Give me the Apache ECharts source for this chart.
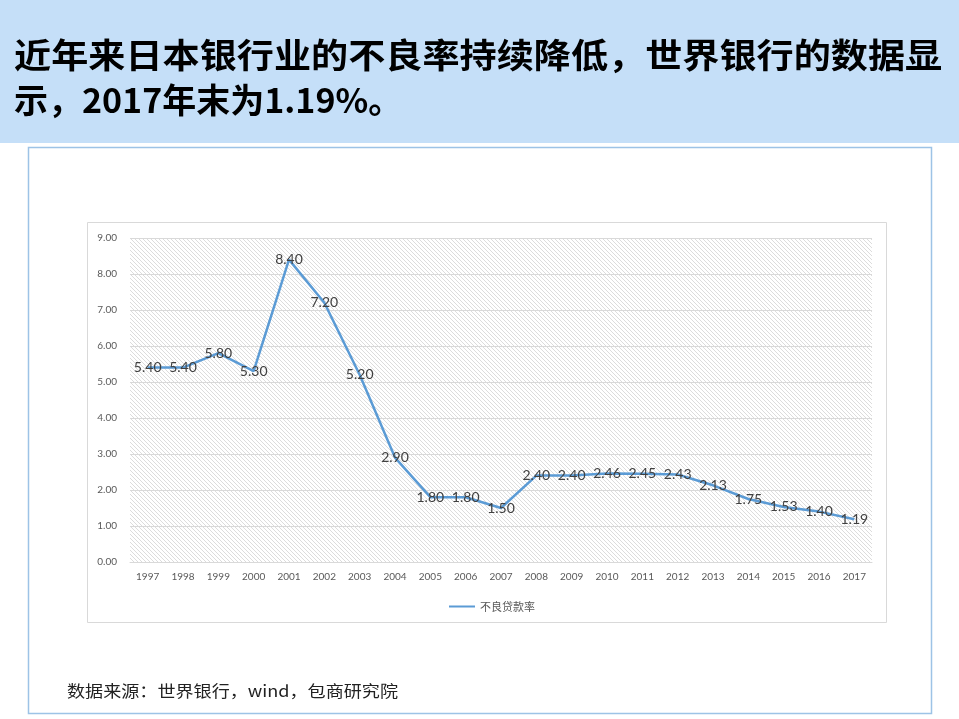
<!DOCTYPE html>
<html>
<head>
<meta charset="utf-8">
<script src="https://cdn.jsdelivr.net/npm/echarts@6/dist/echarts.min.js"></script>
<style>
html,body{margin:0;padding:0;background:#fff;}
#c{width:959px;height:719px;}
</style>
</head>
<body>
<div id="c"></div>
<script>
const years = ['1997','1998','1999','2000','2001','2002','2003','2004','2005','2006','2007','2008','2009','2010','2011','2012','2013','2014','2015','2016','2017'];
const nplRatio = [5.40,5.40,5.80,5.30,8.40,7.20,5.20,2.90,1.80,1.80,1.50,2.40,2.40,2.46,2.45,2.43,2.13,1.75,1.53,1.40,1.19];
const seriesName = '不良贷款率';
const titleLine1 = '近年来日本银行业的不良率持续降低，世界银行的数据显';
const titleLine2 = '示，2017年末为1.19%。';
const sourceText = '数据来源：世界银行，wind，包商研究院';

const tile = document.createElement('canvas');
tile.width = 4; tile.height = 4;
const tctx = tile.getContext('2d');
tctx.fillStyle = '#ffffff'; tctx.fillRect(0,0,4,4);
tctx.fillStyle = '#dcdcdc';
for (let i = 0; i < 4; i++) tctx.fillRect(i, i, 1, 1);

const chart = echarts.init(document.getElementById('c'), null, {renderer:'canvas'});
chart.setOption({
  animation: false,
  backgroundColor: '#ffffff',
  graphic: [
    {type:'rect', shape:{x:0,y:0,width:959,height:143}, style:{fill:'#c5dff8'}, z:-10},
    {type:'rect', shape:{x:28.5,y:147.5,width:903,height:566}, style:{fill:'#ffffff', stroke:'#9dc3e6', lineWidth:1.5}, z:-10},
    {type:'rect', shape:{x:87.5,y:222.5,width:799,height:400}, style:{fill:'#ffffff', stroke:'#d9d9d9', lineWidth:1}, z:-9},
    {type:'text', x:14, y:38, scaleX:1.092, style:{text:titleLine1, fill:'#000', font:'bold 34px "Noto Sans CJK SC"'}},
    {type:'text', x:14, y:83, style:{text:titleLine2, fill:'#000', font:'bold 34px "Noto Sans CJK SC"'}},
    {type:'text', x:67, y:683, scaleX:1.13, style:{text:sourceText, fill:'#222', font:'16px "Noto Sans CJK SC"'}}
  ],
  grid: {left:130, right:87, top:238, bottom:157, show:true, borderWidth:0,
         backgroundColor:{image:tile, repeat:'repeat'}},
  legend: {left:444, top:596, itemWidth:26, itemHeight:10, itemGap:4,
           textStyle:{fontSize:11, color:'#595959', fontFamily:'"Noto Sans CJK SC"'},
           data:[{name:seriesName, icon:'path://M0,4L26,4L26,6L0,6Z', itemStyle:{color:'#5b9bd5', opacity:1}}]},
  xAxis: {type:'category', data:years, boundaryGap:true,
          axisLine:{show:true, lineStyle:{color:'#d9d9d9', width:1}},
          axisTick:{show:false},
          axisLabel:{color:'#595959', fontSize:10, fontFamily:'Lato', margin:10}},
  yAxis: {type:'value', min:0, max:9, interval:1,
          axisLine:{show:false}, axisTick:{show:false},
          axisLabel:{color:'#595959', fontSize:10, fontFamily:'Lato', margin:13,
                     formatter: v => v.toFixed(2)},
          splitLine:{lineStyle:{color:'#d9d9d9', width:1}}},
  series: [{
    name: seriesName, type:'line', data:nplRatio, symbol:'circle', symbolSize:1, showSymbol:true,
    lineStyle:{color:'#5b9bd5', width:2.5}, itemStyle:{color:'#5b9bd5', opacity:0},
    label:{show:true, position:'inside', color:'#404040', fontSize:14, fontFamily:'Lato',
           opacity:1, formatter: p => p.value.toFixed(2)},
    labelLayout:{hideOverlap:false}
  }]
});
</script>
</body>
</html>
